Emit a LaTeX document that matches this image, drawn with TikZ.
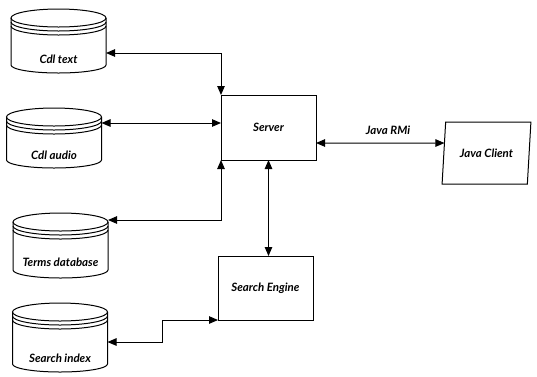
\documentclass[tikz,border=0pt]{standalone}
\usepackage{fontspec}
\setmainfont{Lato}
\usetikzlibrary{arrows.meta,shapes.geometric,calc}
\newcommand\dbcyl[1]{%
  \draw[dbline] ([yshift=-9pt]#1.north) ellipse [x radius=47.5pt, y radius=9pt];
  \draw[dbline] ([yshift=-13pt]#1.north west) arc [start angle=180, end angle=360, x radius=47.5pt, y radius=9pt];
  \draw[dbline] ([yshift=-17pt]#1.north west) arc [start angle=180, end angle=360, x radius=47.5pt, y radius=9pt];
  \draw[dbline] ([yshift=-9pt]#1.north west) -- ([yshift=8pt]#1.south west)
     arc [start angle=180, end angle=360, x radius=47.5pt, y radius=8pt] -- ([yshift=-9pt]#1.north east);
}
\begin{document}
\begin{tikzpicture}[x=1pt,y=-1pt,
  every node/.style={inner sep=0pt, outer sep=0pt},
  dbline/.style={line width=1pt},
  conn/.style={line width=1pt, {Triangle[length=9pt,width=7.5pt]}-{Triangle[length=9pt,width=7.5pt]}},
  lbl/.style={font=\bfseries\itshape\fontsize{11.5}{13}\selectfont},
  box/.style={draw, line width=1pt, minimum width=95pt, minimum height=65pt, lbl},
  dbarea/.style={minimum width=95pt},
  ]
\useasboundingbox (0,0) rectangle (537,376);
% databases
\node[dbarea, minimum height=64pt] (ct) at (58.5,41) {};
\node[dbarea, minimum height=60pt] (ca) at (54,138) {};
\node[dbarea, minimum height=65pt] (td) at (60.5,245.5) {};
\node[dbarea, minimum height=69pt] (si) at (60,337.5) {};
\dbcyl{ct}\dbcyl{ca}\dbcyl{td}\dbcyl{si}
\node[lbl] (ctl) at ([yshift=14pt]ct.south) {Cdl text};
\node[lbl] (cal) at ([yshift=13pt]ca.south) {Cdl audio};
\node[lbl] (tdl) at ([yshift=16pt]td.south) {Terms database};
\node[lbl] (sil) at ([yshift=14pt]si.south) {Search index};
% boxes
\node[box] (srv) at (268.5,127.5) {Server};
\node[box, minimum height=64pt] (se) at (265.5,288) {Search Engine};
\node[draw, line width=1pt, trapezium, trapezium left angle=75, trapezium right angle=105,
      trapezium stretches=true, minimum width=89pt, minimum height=62pt, lbl] (jc) at (486.5,153) {Java Client};
\node[lbl] (rmi) at (388,130) {Java RMi};
% connectors
\draw[conn] ([yshift=-12pt]ct.east) -| (srv.north west);
\draw[conn] ([yshift=15pt]ca.east) -- ([yshift=15pt]ca.east -| srv.west);
\draw[conn] ([yshift=25.5pt]td.east) -| (srv.south west);
\draw[conn] ([yshift=-4.5pt]si.east) -- ++(55pt,0pt) |- (se.south west);
\draw[conn] (srv.south) -- (srv.south |- se.north);
\draw[conn] ([yshift=-15.5pt]srv.east) -- ($(jc.top left corner)!0.339!(jc.bottom left corner)$);
\end{tikzpicture}
\end{document}
